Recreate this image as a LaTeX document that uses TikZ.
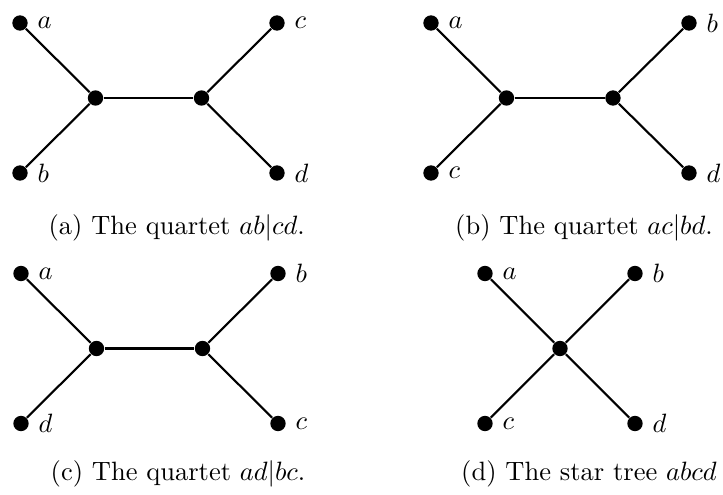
\documentclass[tikz,border=0pt]{standalone}
\begin{document}
\begin{tikzpicture}[x=0.3774pt,y=-0.3774pt,
  dot/.style={circle,fill=black,inner sep=0pt,minimum size=5.8pt},
  edge/.style={line width=0.8pt},
  caption/.style={anchor=base,inner sep=0pt}]
\useasboundingbox (0,0) rectangle (723,495);
% (a)
\node[dot,label=right:$a$] (a1) at (20,23) {};
\node[dot,label=right:$b$] (b1) at (20,173) {};
\node[dot,label=right:$c$] (c1) at (277,23) {};
\node[dot,label=right:$d$] (d1) at (277,173) {};
\node[dot] (u1) at (95.5,98) {};
\node[dot] (v1) at (201.5,98) {};
\draw[edge] (a1) -- (u1) -- (b1);
\draw[edge] (u1) -- (v1);
\draw[edge] (c1) -- (v1) -- (d1);
\node[caption] (capa) at (176.7,235) {(a) The quartet $ab|cd$.};
% (b)
\node[dot,label=right:$a$] (a2) at (431,23) {};
\node[dot,label=right:$c$] (c2) at (431,173) {};
\node[dot,label=right:$b$] (b2) at (689,23) {};
\node[dot,label=right:$d$] (d2) at (689,173) {};
\node[dot] (u2) at (506.5,98) {};
\node[dot] (v2) at (613,98) {};
\draw[edge] (a2) -- (u2) -- (c2);
\draw[edge] (u2) -- (v2);
\draw[edge] (b2) -- (v2) -- (d2);
\node[caption] (capb) at (584,235) {(b) The quartet $ac|bd$.};
% (c)
\node[dot,label=right:$a$] (a3) at (21,273.5) {};
\node[dot,label=right:$d$] (d3) at (21,423.5) {};
\node[dot,label=right:$b$] (b3) at (278,273.5) {};
\node[dot,label=right:$c$] (c3) at (278,423.5) {};
\node[dot] (u3) at (96.5,348.5) {};
\node[dot] (v3) at (202.5,348.5) {};
\draw[edge] (a3) -- (u3) -- (d3);
\draw[edge] (u3) -- (v3);
\draw[edge] (b3) -- (v3) -- (c3);
\node[caption] (capc) at (178,481) {(c) The quartet $ad|bc$.};
% (d)
\node[dot,label=right:$a$] (a4) at (485,273.5) {};
\node[dot,label=right:$b$] (b4) at (635,273.5) {};
\node[dot,label=right:$c$] (c4) at (485,423.5) {};
\node[dot,label=right:$d$] (d4) at (635,423.5) {};
\node[dot] (m4) at (560,348.5) {};
\draw[edge] (a4) -- (m4) -- (d4);
\draw[edge] (b4) -- (m4) -- (c4);
\node[caption] (capd) at (589,481) {(d) The star tree $abcd$};
\end{tikzpicture}
\end{document}
